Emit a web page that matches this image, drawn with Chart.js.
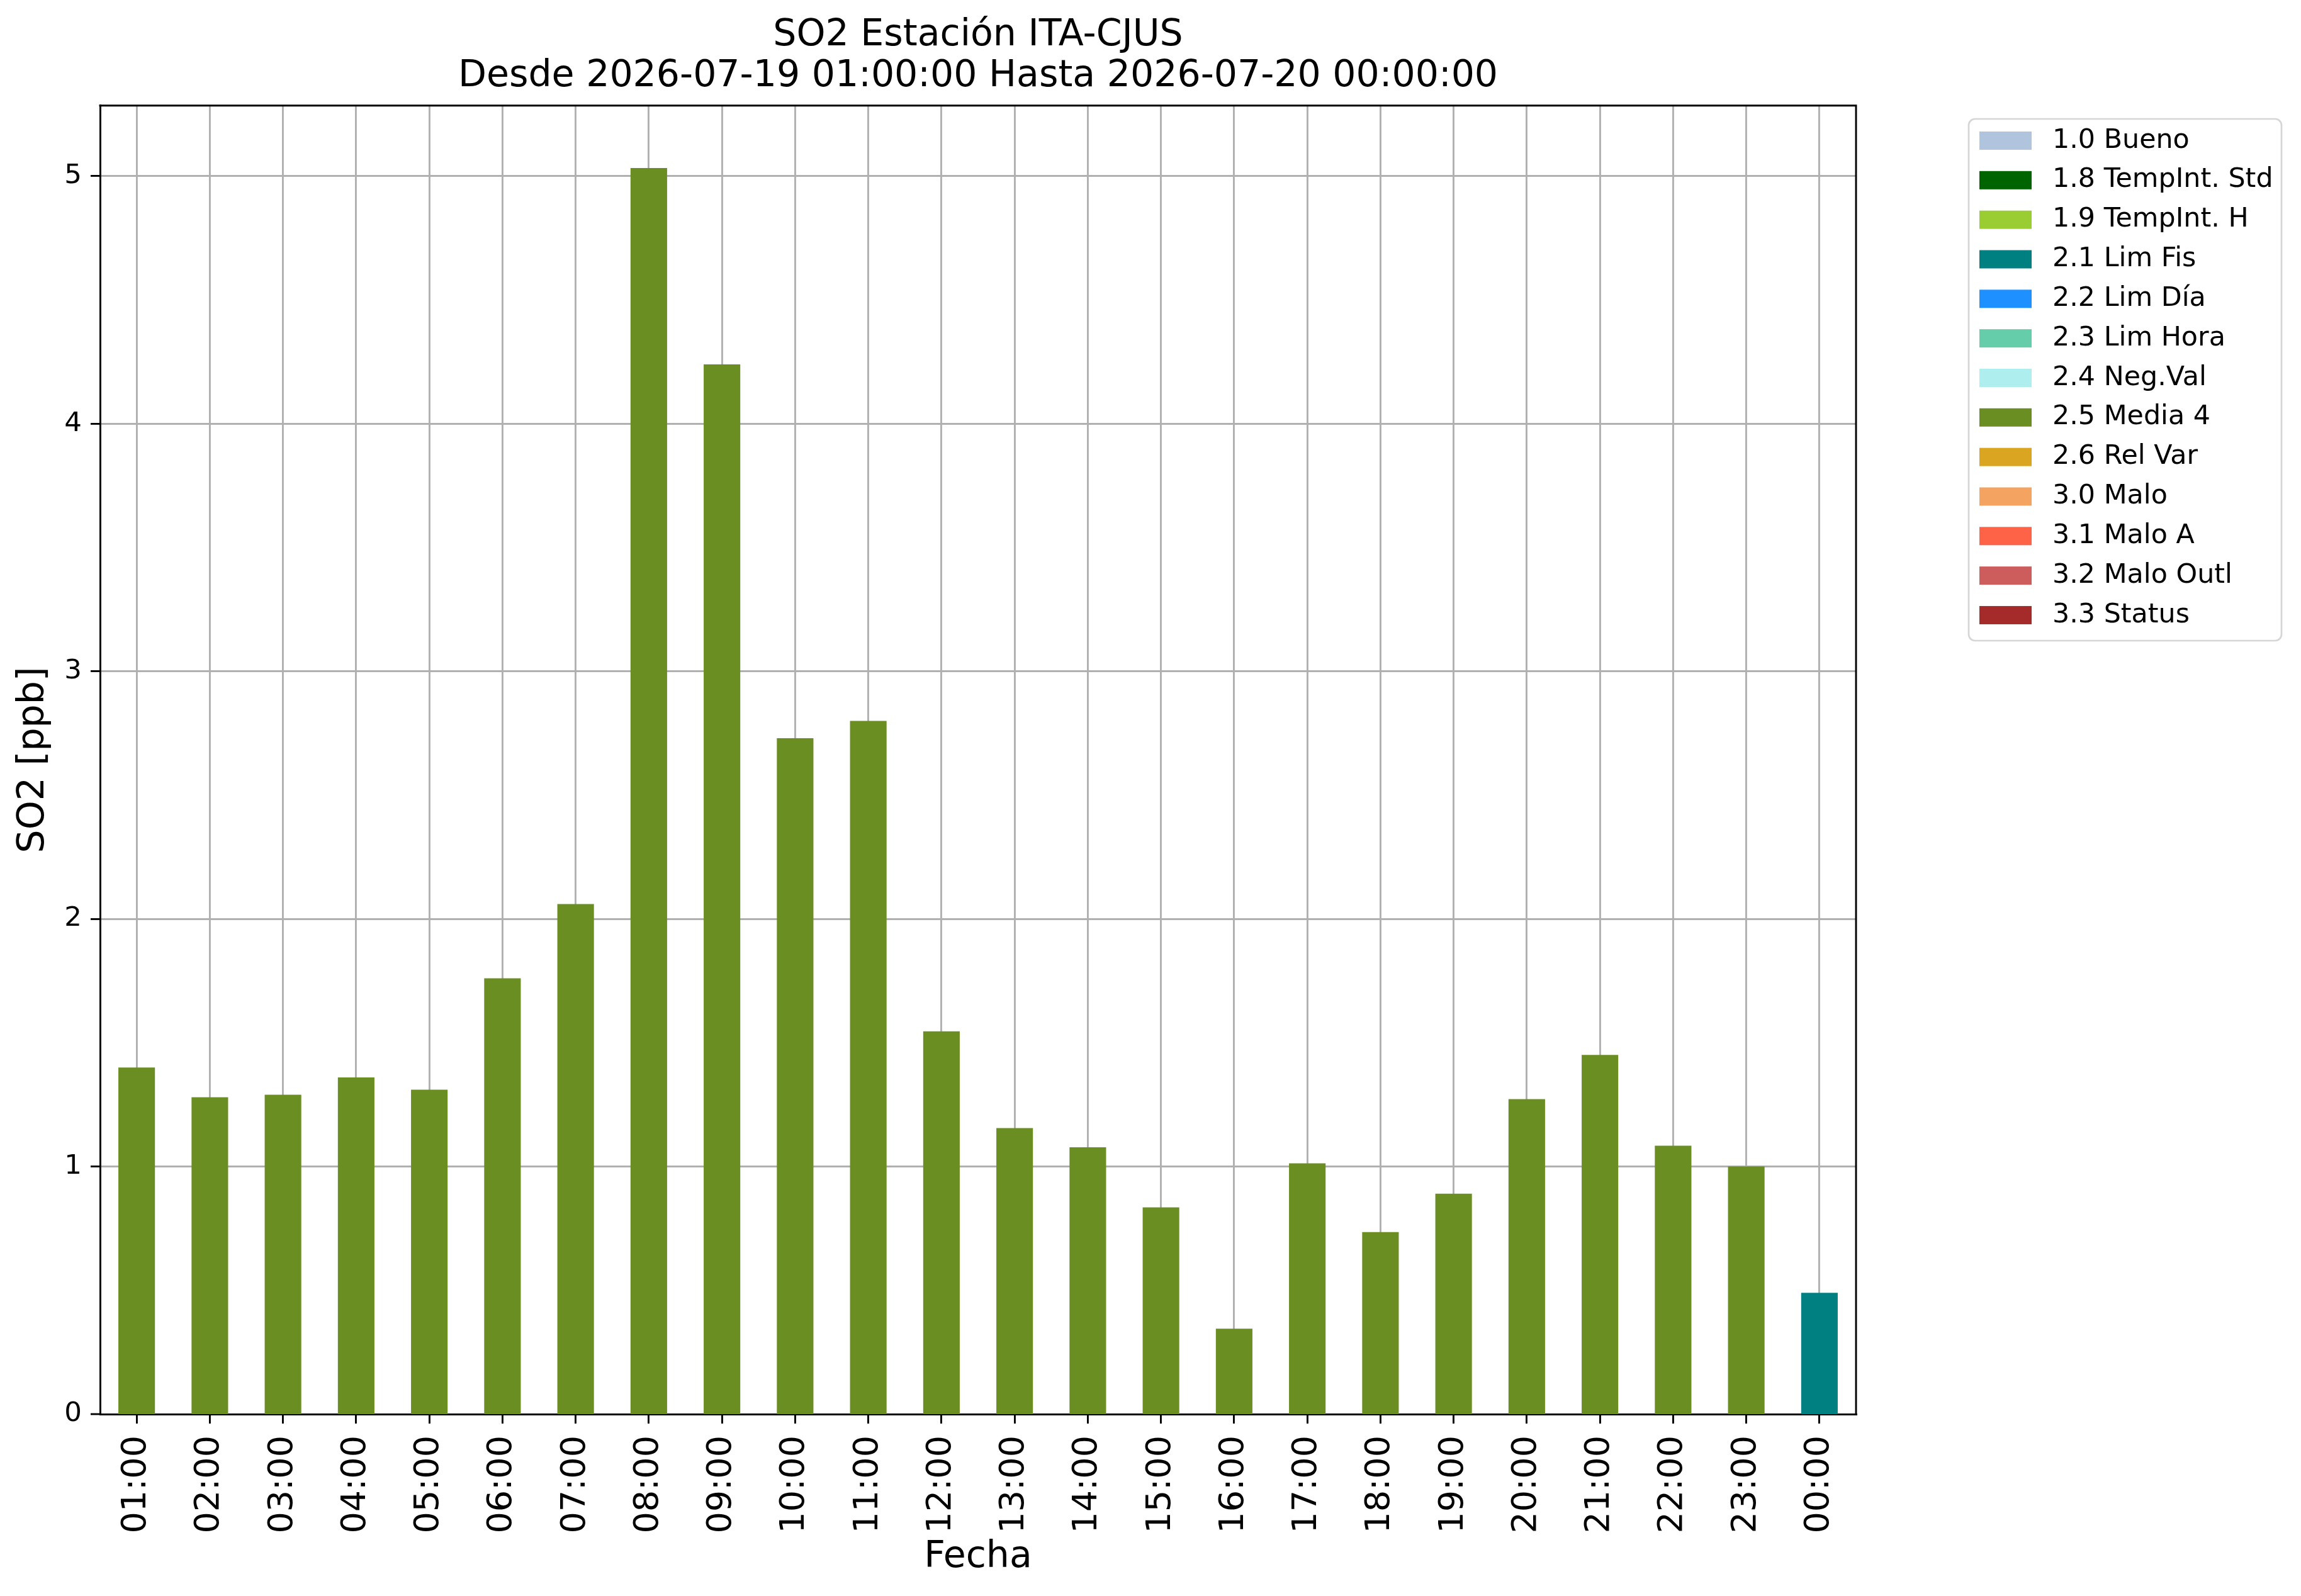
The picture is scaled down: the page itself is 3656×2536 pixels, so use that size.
<!DOCTYPE html>
<html>
<head>
<meta charset="utf-8">
<script src="https://cdn.jsdelivr.net/npm/chart.js@4.4.1/dist/chart.umd.min.js"></script>
<style>
html, body { margin: 0; padding: 0; background: #ffffff; }
#wrap { width: 3656px; height: 2536px; }
canvas { display: block; }
</style>
</head>
<body>
<div id="wrap"><canvas id="chart" width="3656" height="2536" style="width:3656px;height:2536px"></canvas></div>
<script>
// ---- data ----
const hours = ['01:00','02:00','03:00','04:00','05:00','06:00','07:00','08:00','09:00','10:00','11:00','12:00',
               '13:00','14:00','15:00','16:00','17:00','18:00','19:00','20:00','21:00','22:00','23:00','00:00'];
const media4Values = [1.40, 1.28, 1.29, 1.36, 1.31, 1.76, 2.06, 5.033, 4.24, 2.73, 2.80, 1.546,
                      1.155, 1.078, 0.835, 0.345, 1.013, 0.735, 0.89, 1.272, 1.451, 1.084, 1.00, null];
const limFisValues = [null, null, null, null, null, null, null, null, null, null, null, null,
                      null, null, null, null, null, null, null, null, null, null, null, 0.49];
const flagLabels = ['1.0 Bueno','1.8 TempInt. Std','1.9 TempInt. H','2.1 Lim Fis','2.2 Lim Día','2.3 Lim Hora',
                    '2.4 Neg.Val','2.5 Media 4','2.6 Rel Var','3.0 Malo','3.1 Malo A','3.2 Malo Outl','3.3 Status'];
const flagColors = ['#B0C4DE','#006400','#9ACD32','#008080','#1E90FF','#66CDAA',
                    '#AFEEEE','#6B8E23','#DAA520','#F4A460','#FF6347','#CD5C5C','#A52A2A'];
const seriesByFlag = { '2.1 Lim Fis': limFisValues, '2.5 Media 4': media4Values };
const titleLines = ['SO2 Estación ITA-CJUS', 'Desde 2026-07-19 01:00:00 Hasta 2026-07-20 00:00:00'];
const xTitle = 'Fecha';
const yTitle = 'SO2 [ppb]';
const yMin = 0, yMax = 5.285, yStep = 1;

// ---- chart ----
const FONT = 'DejaVu Sans';
const GRID = '#b0b0b0';
const LW = 2.9;

const datasets = flagLabels.map((label, i) => ({
  label: label,
  data: seriesByFlag[label] || hours.map(() => null),
  backgroundColor: flagColors[i],
  borderWidth: 0,
  grouped: false,
  barPercentage: 0.5,
  categoryPercentage: 1.0
}));

const bgPlugin = {
  id: 'bg',
  beforeDraw(chart) {
    const c = chart.ctx;
    c.save(); c.fillStyle = '#ffffff'; c.fillRect(0, 0, chart.width, chart.height); c.restore();
  }
};

const framePlugin = {
  id: 'frame',
  afterDraw(chart) {
    const a = chart.chartArea, c = chart.ctx;
    c.save();
    c.strokeStyle = '#000000'; c.lineWidth = LW; c.lineCap = 'square';
    c.beginPath();
    c.moveTo(a.left, a.top); c.lineTo(a.right, a.top); c.lineTo(a.right, a.bottom);
    c.stroke();
    c.restore();
  }
};

function roundRectPath(c, x, y, w, h, r) {
  c.beginPath();
  c.moveTo(x + r, y);
  c.lineTo(x + w - r, y); c.arcTo(x + w, y, x + w, y + r, r);
  c.lineTo(x + w, y + h - r); c.arcTo(x + w, y + h, x + w - r, y + h, r);
  c.lineTo(x + r, y + h); c.arcTo(x, y + h, x, y + h - r, r);
  c.lineTo(x, y + r); c.arcTo(x, y, x + r, y, r);
  c.closePath();
}

const legendPlugin = {
  id: 'mplLegend',
  afterDraw(chart) {
    const c = chart.ctx, a = chart.chartArea;
    const bx = a.right + 179, by = 189, bw = 497, bh = 829;
    c.save();
    roundRectPath(c, bx, by, bw, bh, 10);
    c.fillStyle = 'rgba(255,255,255,0.8)'; c.fill();
    c.strokeStyle = '#d6d6d6'; c.lineWidth = 2.7; c.stroke();
    const step = 62.83, y0 = 223.5;
    c.font = '42.8px "' + FONT + '"';
    c.textBaseline = 'middle'; c.textAlign = 'left';
    chart.data.datasets.forEach((ds, i) => {
      const cy = y0 + i * step;
      c.fillStyle = ds.backgroundColor;
      c.fillRect(bx + 17, cy - 14.5, 83, 29);
      c.fillStyle = '#000000';
      c.fillText(ds.label, bx + 133, cy);
    });
    c.restore();
  }
};

new Chart(document.getElementById('chart'), {
  type: 'bar',
  data: { labels: hours, datasets: datasets },
  plugins: [bgPlugin, framePlugin, legendPlugin],
  options: {
    responsive: false,
    animation: false,
    devicePixelRatio: 1,
    layout: { padding: { left: 0, top: 0, right: 707, bottom: 0 } },
    plugins: {
      legend: { display: false },
      tooltip: { enabled: false },
      title: {
        display: true,
        text: titleLines,
        fullSize: false,
        color: '#000000',
        font: { family: FONT, size: 58.5, weight: 'normal', lineHeight: 65.5 / 58.5 },
        padding: { top: 24, bottom: 12.75 }
      }
    },
    scales: {
      x: {
        type: 'category',
        offset: true,
        z: 1,
        grid: {
          offset: false, color: GRID, lineWidth: LW,
          drawTicks: true, tickLength: 15, tickColor: '#000000', tickWidth: LW
        },
        border: { display: true, color: '#000000', width: LW },
        ticks: {
          autoSkip: false, maxRotation: 90, minRotation: 90, padding: 19,
          color: '#000000', font: { family: FONT, size: 54 }
        },
        title: {
          display: true, text: xTitle, color: '#000000',
          font: { family: FONT, size: 58.5 }, padding: { top: 0, bottom: 26 }
        },
        afterFit(scale) { scale.height = 289; }
      },
      y: {
        min: yMin, max: yMax,
        z: 1,
        grid: {
          color: GRID,
          lineWidth: (ctx) => (ctx.tick && ctx.tick.value === 0 ? 0 : LW),
          drawTicks: true, tickLength: 15, tickColor: '#000000', tickWidth: LW
        },
        border: { display: true, color: '#000000', width: LW },
        ticks: {
          stepSize: yStep, includeBounds: false, padding: 14,
          color: '#000000', font: { family: FONT, size: 43.5 }
        },
        title: {
          display: true, text: yTitle, color: '#000000',
          font: { family: FONT, size: 58.5 }, padding: { top: 19, bottom: 0 }
        },
        afterFit(scale) { scale.width = 159; }
      }
    }
  }
});
</script>
</body>
</html>
